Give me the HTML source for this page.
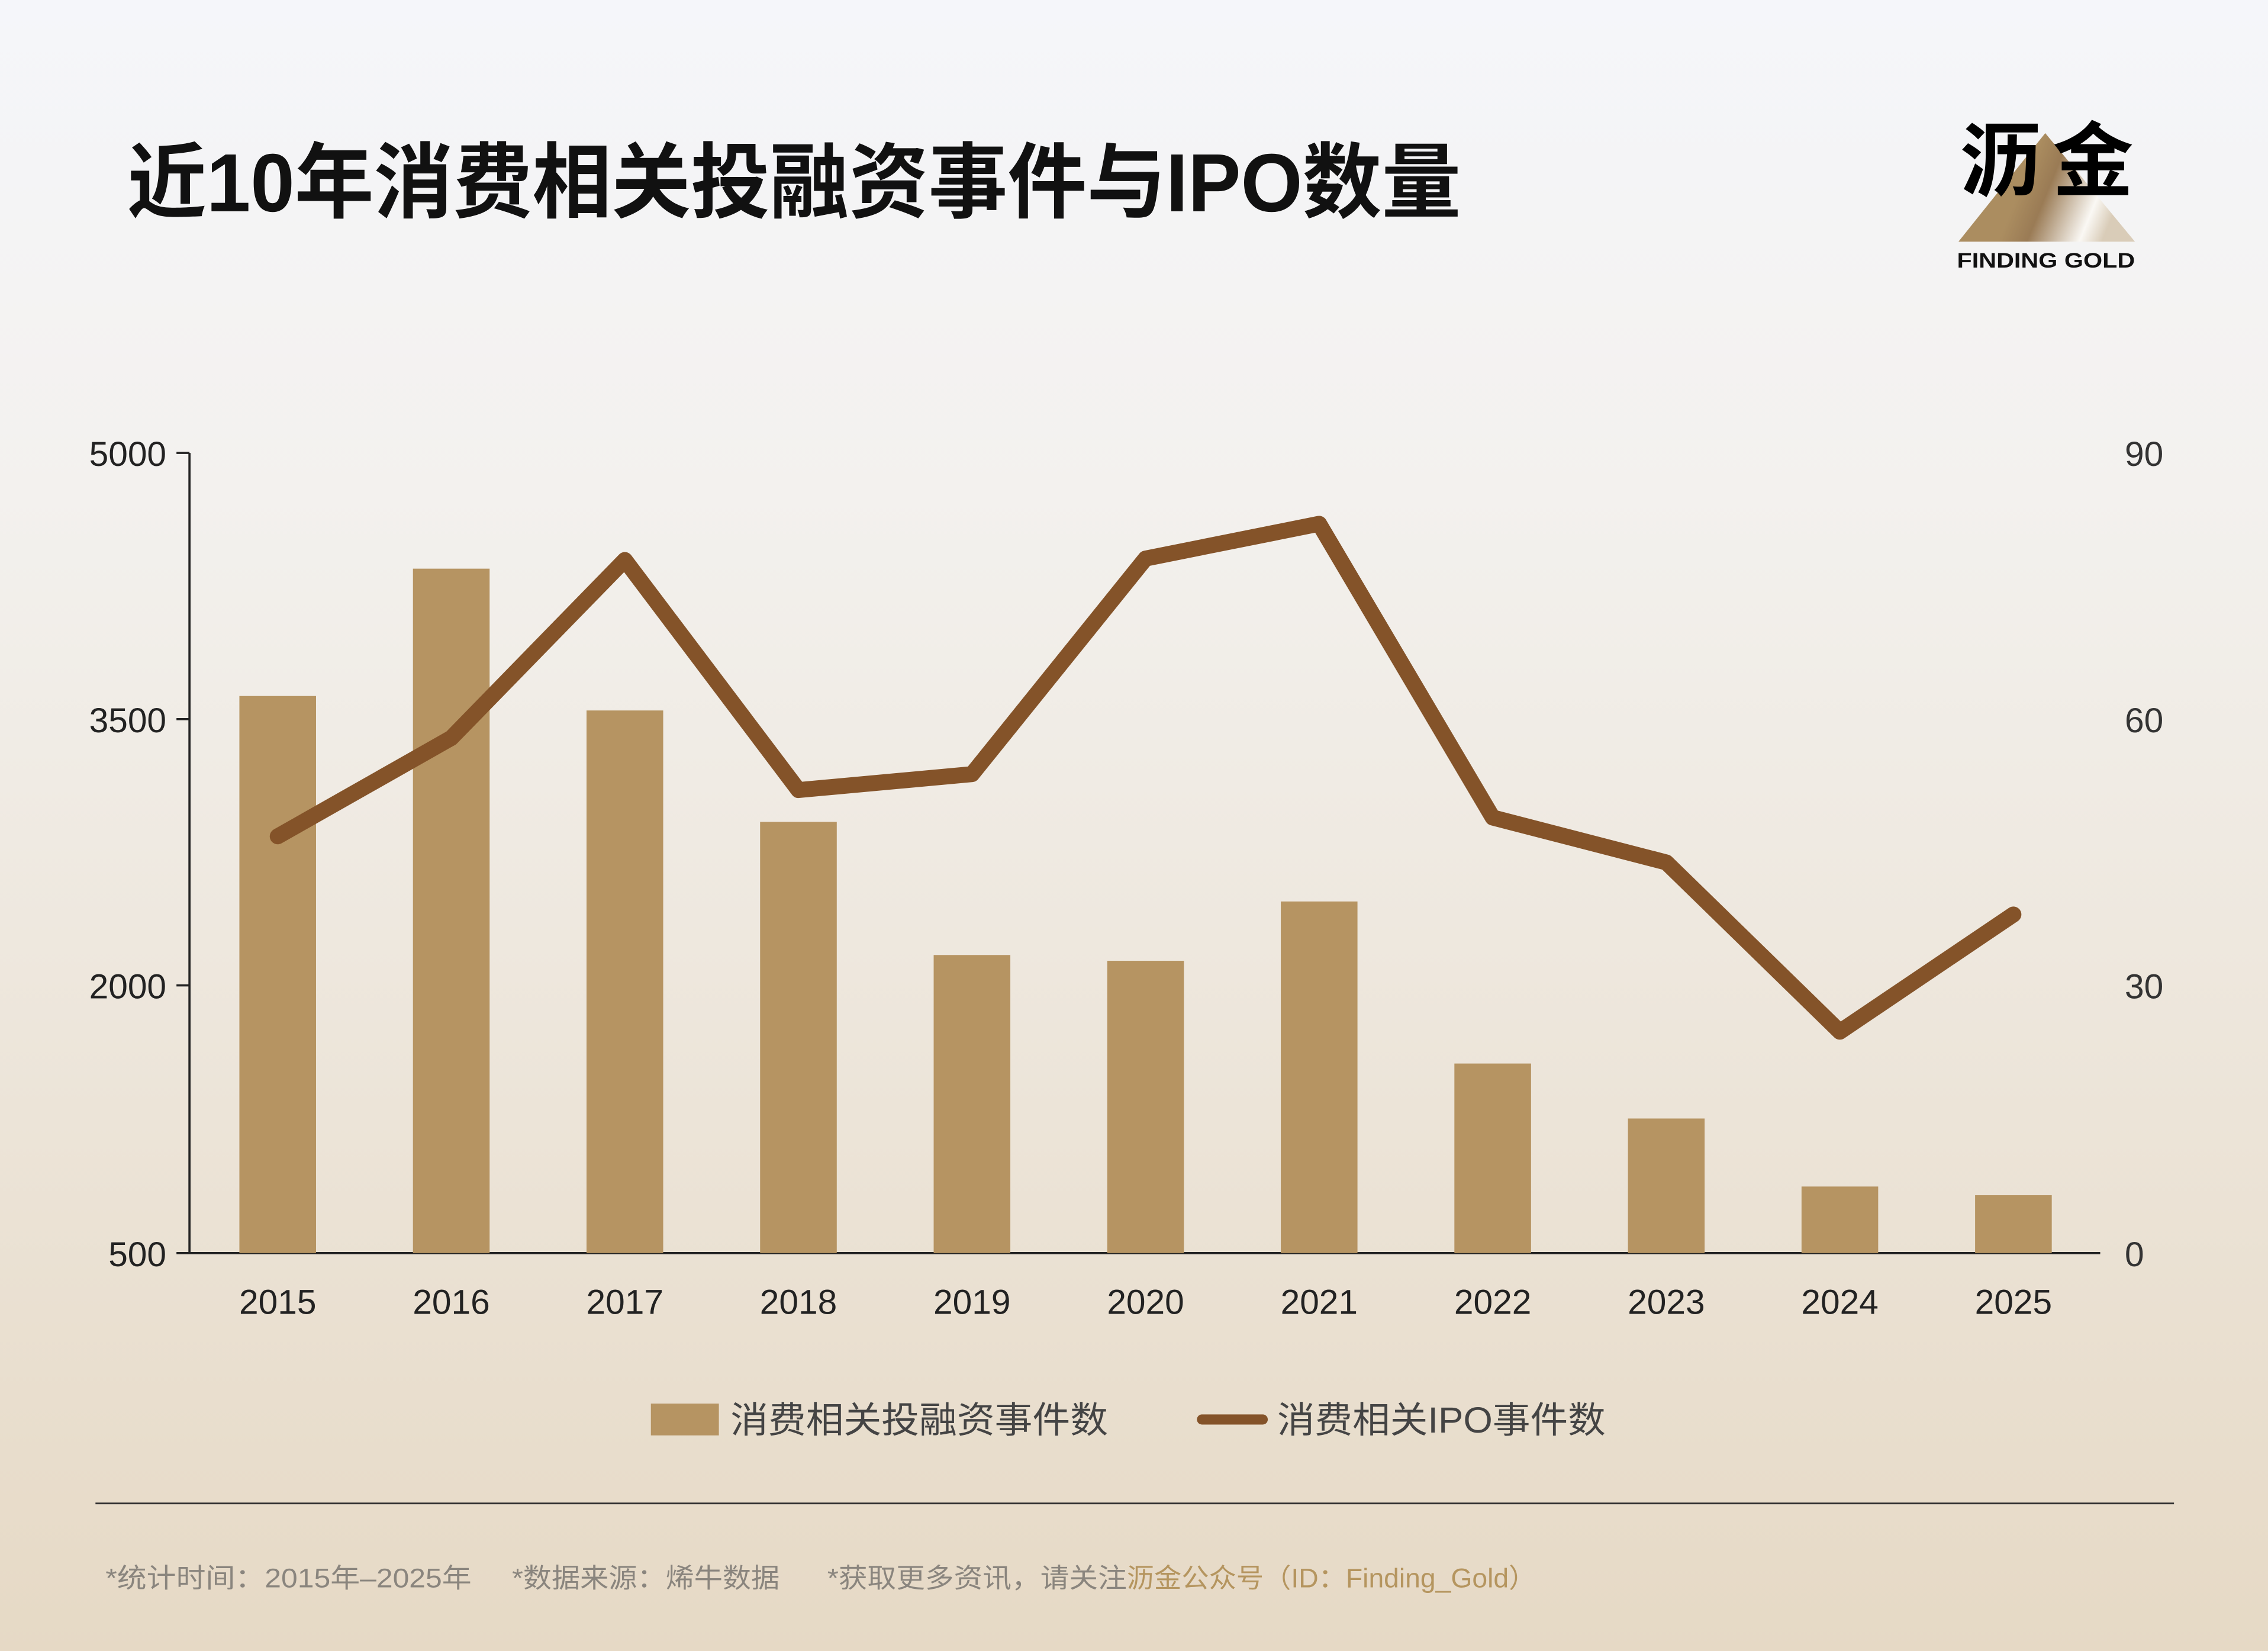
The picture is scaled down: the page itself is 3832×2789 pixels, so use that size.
<!DOCTYPE html>
<html><head><meta charset="utf-8">
<style>
html,body{margin:0;padding:0;}
body{width:3832px;height:2789px;overflow:hidden;}
svg{display:block;}
text{font-family:"Liberation Sans","Noto Sans CJK SC",sans-serif;}
</style></head>
<body>
<svg width="3832" height="2789" viewBox="0 0 1568 1141" preserveAspectRatio="none" xmlns="http://www.w3.org/2000/svg">
<defs>
<linearGradient id="bg" x1="0" y1="0" x2="0" y2="1">
<stop offset="0" stop-color="#f5f6fa"/>
<stop offset="0.3" stop-color="#f3f1ee"/>
<stop offset="1" stop-color="#e6d9c5"/>
</linearGradient>
<linearGradient id="tri" x1="0" y1="0" x2="1" y2="0.25">
<stop offset="0" stop-color="#ab8d60"/>
<stop offset="0.45" stop-color="#ab8d60"/>
<stop offset="0.6" stop-color="#9a7b55"/>
<stop offset="0.88" stop-color="#faf8f4"/>
<stop offset="1" stop-color="#d9ccb8"/>
</linearGradient>
</defs>
<rect width="1568" height="1141" fill="url(#bg)"/>
<text x="88" y="146" font-size="57" font-weight="bold" fill="#111" textLength="922" lengthAdjust="spacingAndGlyphs">近10年消费相关投融资事件与IPO数量</text>
<polygon points="1354,167 1414,92 1476,167" fill="url(#tri)"/>
<text x="1355" y="131" font-size="56" font-weight="bold" fill="#000" textLength="120" lengthAdjust="spacing">沥金</text>
<text x="1353" y="185" font-size="14.5" font-weight="bold" fill="#111" textLength="123" lengthAdjust="spacingAndGlyphs">FINDING GOLD</text>
<g font-size="24" fill="#222" text-anchor="end">
<text x="115" y="322">5000</text><text x="115" y="506">3500</text><text x="115" y="690">2000</text><text x="115" y="875">500</text>
</g>
<g font-size="24" fill="#333" text-anchor="start">
<text x="1469" y="322">90</text><text x="1469" y="506">60</text><text x="1469" y="690">30</text><text x="1469" y="875">0</text>
</g>
<g stroke="#222" stroke-width="1.5">
<line x1="131" y1="313" x2="131" y2="866"/>
<line x1="122" y1="866" x2="1452" y2="866"/>
<line x1="122" y1="313" x2="131" y2="313"/><line x1="122" y1="497" x2="131" y2="497"/><line x1="122" y1="681" x2="131" y2="681"/>
</g>
<g fill="#b69462">
<rect x="165.5" y="481" width="53" height="385"/>
<rect x="285.5" y="393" width="53" height="473"/>
<rect x="405.5" y="491" width="53" height="375"/>
<rect x="525.5" y="568" width="53" height="298"/>
<rect x="645.5" y="660" width="53" height="206"/>
<rect x="765.5" y="664" width="53" height="202"/>
<rect x="885.5" y="623" width="53" height="243"/>
<rect x="1005.5" y="735" width="53" height="131"/>
<rect x="1125.5" y="773" width="53" height="93"/>
<rect x="1245.5" y="820" width="53" height="46"/>
<rect x="1365.5" y="826" width="53" height="40"/>
</g>
<polyline points="192,578 312,510 432,387 552,546 672,535 792,386 912,362 1032,565 1152,596 1272,713 1392,632" fill="none" stroke="#845329" stroke-width="11" stroke-linejoin="round" stroke-linecap="round"/>
<g font-size="24" fill="#222" text-anchor="middle">
<text x="192" y="908">2015</text><text x="312" y="908">2016</text><text x="432" y="908">2017</text><text x="552" y="908">2018</text><text x="672" y="908">2019</text><text x="792" y="908">2020</text><text x="912" y="908">2021</text><text x="1032" y="908">2022</text><text x="1152" y="908">2023</text><text x="1272" y="908">2024</text><text x="1392" y="908">2025</text>
</g>
<rect x="450" y="970" width="47" height="22" fill="#b69462"/>
<text x="505" y="990" font-size="25" fill="#444" textLength="261" lengthAdjust="spacingAndGlyphs">消费相关投融资事件数</text>
<line x1="831" y1="981" x2="873" y2="981" stroke="#845329" stroke-width="7" stroke-linecap="round"/>
<text x="883" y="990" font-size="25" fill="#444" textLength="227" lengthAdjust="spacingAndGlyphs">消费相关IPO事件数</text>
<line x1="66" y1="1039" x2="1503" y2="1039" stroke="#333" stroke-width="1.2"/>
<g font-size="18.5" fill="#8a857e">
<text x="73" y="1097" textLength="253" lengthAdjust="spacingAndGlyphs">*统计时间：2015年–2025年</text>
<text x="354" y="1097" textLength="185" lengthAdjust="spacingAndGlyphs">*数据来源：烯牛数据</text>
<text x="572" y="1097" textLength="207" lengthAdjust="spacingAndGlyphs">*获取更多资讯，请关注</text>
<text x="779" y="1097" fill="#b5955f" textLength="283" lengthAdjust="spacingAndGlyphs">沥金公众号（ID：Finding_Gold）</text>
</g>
</svg>
</body></html>
